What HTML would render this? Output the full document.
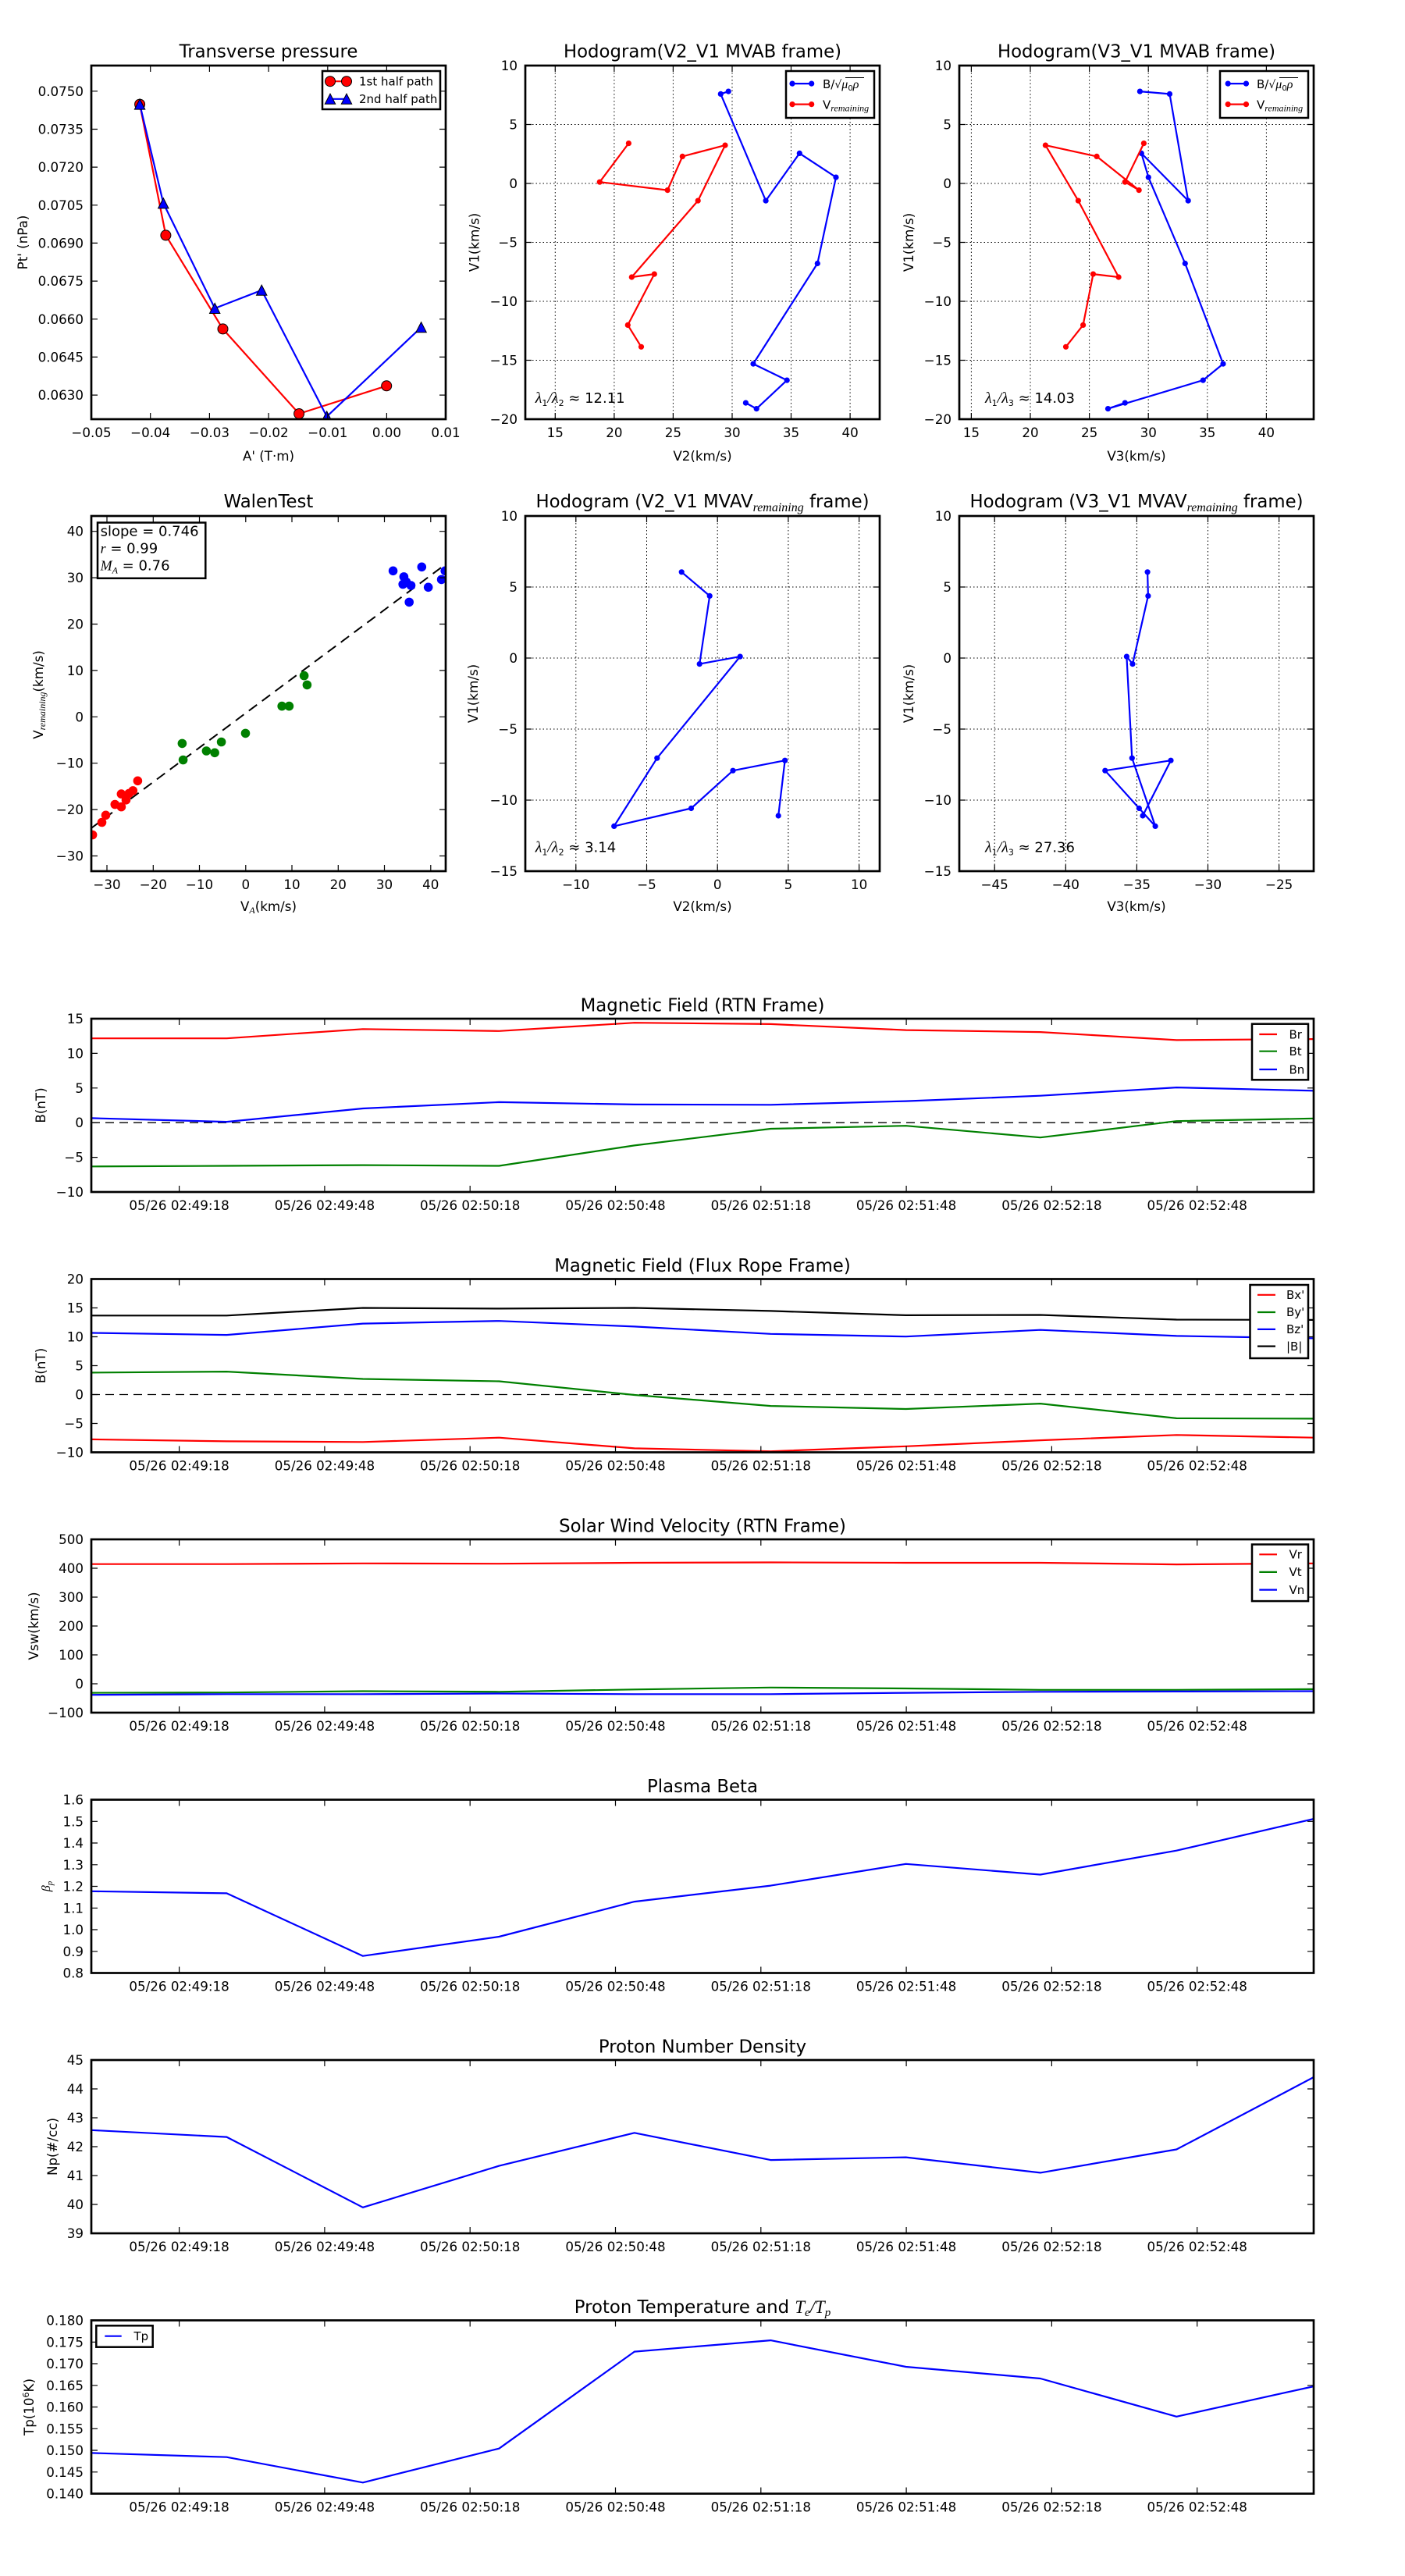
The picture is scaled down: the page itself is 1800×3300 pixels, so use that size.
<!DOCTYPE html>
<html><head><meta charset="utf-8"><style>
html,body{margin:0;padding:0;background:#fff;}
svg{display:block;}
text{font-family:"DejaVu Sans","Liberation Sans",sans-serif;fill:#000;}
.tk{font-size:16.7px;}
.tr{font-size:16.7px;text-anchor:end;}
.tc{font-size:16.7px;text-anchor:middle;}
.ttl{font-size:22.8px;text-anchor:middle;}
.lg{font-size:15px;}
.m{font-family:"Liberation Serif","DejaVu Serif",serif;font-style:italic;}
.fr{fill:none;stroke:#000;stroke-width:2.7;}
.tkm{fill:none;stroke:#000;stroke-width:1.2;}
.gr{fill:none;stroke:#000;stroke-width:1;stroke-dasharray:1.5 3;}
.ln{fill:none;stroke-width:2.2;stroke-linejoin:round;}
</style></head><body>
<svg width="1800" height="3300" viewBox="0 0 1800 3300" xmlns="http://www.w3.org/2000/svg">
<rect width="1800" height="3300" fill="#fff"/>
<defs>
<clipPath id="c1"><rect x="117" y="84" width="454" height="453"/></clipPath>
<clipPath id="c2"><rect x="673" y="84" width="454" height="453"/></clipPath>
<clipPath id="c3"><rect x="1229" y="84" width="454" height="453"/></clipPath>
<clipPath id="c4"><rect x="117" y="661" width="454" height="455"/></clipPath>
<clipPath id="c5"><rect x="673" y="661" width="454" height="455"/></clipPath>
<clipPath id="c6"><rect x="1229" y="661" width="454" height="455"/></clipPath>
<clipPath id="cts1"><rect x="117" y="1305" width="1566" height="222"/></clipPath>
<clipPath id="cts2"><rect x="117" y="1638.5" width="1566" height="222"/></clipPath>
<clipPath id="cts3"><rect x="117" y="1972" width="1566" height="222"/></clipPath>
<clipPath id="cts4"><rect x="117" y="2305.5" width="1566" height="222"/></clipPath>
<clipPath id="cts5"><rect x="117" y="2639" width="1566" height="222"/></clipPath>
<clipPath id="cts6"><rect x="117" y="2972.5" width="1566" height="222"/></clipPath>
<marker id="mo" markerWidth="16" markerHeight="16" refX="8" refY="8" markerUnits="userSpaceOnUse" overflow="visible"><circle cx="8" cy="8" r="6.5" fill="#f00" stroke="#000" stroke-width="1"/></marker>
<marker id="mt" markerWidth="16" markerHeight="16" refX="8" refY="8" markerUnits="userSpaceOnUse" overflow="visible"><polygon points="8,1.3 14.7,14.5 1.3,14.5" fill="#00f" stroke="#000" stroke-width="1"/></marker>
<marker id="db" markerWidth="10" markerHeight="10" refX="5" refY="5" markerUnits="userSpaceOnUse" overflow="visible"><circle cx="5" cy="5" r="3.6" fill="#00f"/></marker>
<marker id="dr" markerWidth="10" markerHeight="10" refX="5" refY="5" markerUnits="userSpaceOnUse" overflow="visible"><circle cx="5" cy="5" r="3.6" fill="#f00"/></marker>
</defs>

<!-- ================= Plot 1: Transverse pressure ================= -->
<text class="ttl" x="344" y="73.5">Transverse pressure</text>
<g clip-path="url(#c1)">
<polyline class="ln" stroke="#f00" points="179.1,133.6 212.4,301.4 285.5,421.4 383.1,530 495.2,494.3" marker-start="url(#mo)" marker-mid="url(#mo)" marker-end="url(#mo)"/>
<polyline class="ln" stroke="#00f" points="179.1,133.6 209.3,260.4 275.2,395 335.2,371.8 418.7,533.6 539.6,419.3" marker-start="url(#mt)" marker-mid="url(#mt)" marker-end="url(#mt)"/>
</g>
<path class="tkm" d="M192.7 537v-8M268.4 537v-8M344.1 537v-8M419.8 537v-8M495.4 537v-8M192.7 84v8M268.4 84v8M344.1 84v8M419.8 84v8M495.4 84v8M117 116.8h8M117 165.5h8M117 214.1h8M117 262.8h8M117 311.4h8M117 360.1h8M117 408.8h8M117 457.4h8M117 506.1h8M571 116.8h-8M571 165.5h-8M571 214.1h-8M571 262.8h-8M571 311.4h-8M571 360.1h-8M571 408.8h-8M571 457.4h-8M571 506.1h-8"/>
<rect class="fr" x="117" y="84" width="454" height="453"/>
<g>
<rect x="413" y="91" width="151" height="49" fill="#fff" stroke="#000" stroke-width="2.5"/>
<polyline class="ln" stroke="#f00" points="423,104.2 444,104.2" marker-start="url(#mo)" marker-end="url(#mo)"/>
<polyline class="ln" stroke="#00f" points="423,126.8 444,126.8" marker-start="url(#mt)" marker-end="url(#mt)"/>
<text class="lg" x="460" y="109.5">1st half path</text>
<text class="lg" x="460" y="132">2nd half path</text>
</g>
<text class="tr" x="107" y="122.8">0.0750</text>
<text class="tr" x="107" y="171.5">0.0735</text>
<text class="tr" x="107" y="220.1">0.0720</text>
<text class="tr" x="107" y="268.8">0.0705</text>
<text class="tr" x="107" y="317.4">0.0690</text>
<text class="tr" x="107" y="366.1">0.0675</text>
<text class="tr" x="107" y="414.8">0.0660</text>
<text class="tr" x="107" y="463.4">0.0645</text>
<text class="tr" x="107" y="512.1">0.0630</text>
<text class="tc" x="117" y="560">−0.05</text>
<text class="tc" x="192.7" y="560">−0.04</text>
<text class="tc" x="268.4" y="560">−0.03</text>
<text class="tc" x="344.1" y="560">−0.02</text>
<text class="tc" x="419.8" y="560">−0.01</text>
<text class="tc" x="495.4" y="560">0.00</text>
<text class="tc" x="571" y="560">0.01</text>
<text class="tc" transform="translate(35,310.5) rotate(-90)">Pt' (nPa)</text>
<text class="tc" x="344" y="590">A' (T·m)</text>

<!-- ================= Plot 2: Hodogram V2_V1 MVAB ================= -->
<text class="ttl" x="900" y="73.5">Hodogram(V2_V1 MVAB frame)</text>
<path class="gr" d="M711.3 84V537M786.9 84V537M862.4 84V537M938 84V537M1013.5 84V537M1089.1 84V537M673 159.5H1127M673 235H1127M673 310.5H1127M673 386H1127M673 461.5H1127"/>
<g clip-path="url(#c2)">
<polyline class="ln" stroke="#00f" points="933.2,117.1 923.3,120.4 981.1,257.1 1024.3,196.4 1071,227.1 1047.3,337.5 965,466.1 1008.2,487.1 969.2,523.6 955.4,516.1" marker-start="url(#db)" marker-mid="url(#db)" marker-end="url(#db)"/>
<polyline class="ln" stroke="#f00" points="805.4,183.6 768.3,233.2 855.2,243.6 874.3,200.4 929,186.1 894.2,257.1 809.3,355 838.3,351.1 804.3,416.4 821.5,444.3" marker-start="url(#dr)" marker-mid="url(#dr)" marker-end="url(#dr)"/>
</g>
<path class="tkm" d="M711.3 537v-8M786.9 537v-8M862.4 537v-8M938 537v-8M1013.5 537v-8M1089.1 537v-8M711.3 84v8M786.9 84v8M862.4 84v8M938 84v8M1013.5 84v8M1089.1 84v8M673 159.5h8M673 235h8M673 310.5h8M673 386h8M673 461.5h8M1127 159.5h-8M1127 235h-8M1127 310.5h-8M1127 386h-8M1127 461.5h-8"/>
<rect class="fr" x="673" y="84" width="454" height="453"/>
<rect x="1007" y="91" width="113" height="60" fill="#fff" stroke="#000" stroke-width="2.5"/>
<polyline class="ln" stroke="#00f" points="1015,107.1 1039.7,107.1" marker-start="url(#db)" marker-end="url(#db)"/>
<polyline class="ln" stroke="#f00" points="1015,133.6 1039.7,133.6" marker-start="url(#dr)" marker-end="url(#dr)"/>
<text class="lg" x="1054" y="113">B/<tspan font-family="DejaVu Sans" font-size="14">√</tspan><tspan class="m" font-size="16">μ</tspan><tspan font-size="10" dy="3">0</tspan><tspan class="m" font-size="16" dy="-3">ρ</tspan></text>
<line x1="1083" y1="99.5" x2="1107" y2="99.5" stroke="#000" stroke-width="1"/>
<text class="lg" x="1054" y="139.5">V<tspan class="m" font-size="12" dy="3">remaining</tspan></text>
<text x="685.7" y="516" font-size="18"><tspan class="m" font-size="20">λ</tspan><tspan font-size="11" dy="4">1</tspan><tspan class="m" font-size="20" dy="-4">/λ</tspan><tspan font-size="11" dy="4">2</tspan><tspan dy="-4"> ≈ 12.11</tspan></text>
<text class="tr" x="663" y="90">10</text>
<text class="tr" x="663" y="165.5">5</text>
<text class="tr" x="663" y="241">0</text>
<text class="tr" x="663" y="316.5">−5</text>
<text class="tr" x="663" y="392">−10</text>
<text class="tr" x="663" y="467.5">−15</text>
<text class="tr" x="663" y="543">−20</text>
<text class="tc" x="711.3" y="560">15</text>
<text class="tc" x="786.9" y="560">20</text>
<text class="tc" x="862.4" y="560">25</text>
<text class="tc" x="938" y="560">30</text>
<text class="tc" x="1013.5" y="560">35</text>
<text class="tc" x="1089.1" y="560">40</text>
<text class="tc" transform="translate(613.5,310.5) rotate(-90)">V1(km/s)</text>
<text class="tc" x="900" y="590">V2(km/s)</text>

<!-- ================= Plot 3: Hodogram V3_V1 MVAB ================= -->
<text class="ttl" x="1456" y="73.5">Hodogram(V3_V1 MVAB frame)</text>
<path class="gr" d="M1244.4 84V537M1320 84V537M1395.6 84V537M1471.2 84V537M1546.8 84V537M1622.4 84V537M1229 159.5H1683M1229 235H1683M1229 310.5H1683M1229 386H1683M1229 461.5H1683"/>
<g clip-path="url(#c3)">
<polyline class="ln" stroke="#00f" points="1460.4,117.1 1498.5,120.4 1522.2,257.1 1462.3,196.4 1471.3,227.1 1518.3,337.5 1567,466.1 1541.3,487.1 1419.5,523.6 1441.3,516.1" marker-start="url(#db)" marker-mid="url(#db)" marker-end="url(#db)"/>
<polyline class="ln" stroke="#f00" points="1465.4,183.6 1441.3,233.2 1459.2,243.6 1405.1,200.4 1339.4,186.1 1381.4,257.1 1433.1,355 1400.5,351.1 1387.6,416.4 1365.5,444.3" marker-start="url(#dr)" marker-mid="url(#dr)" marker-end="url(#dr)"/>
</g>
<path class="tkm" d="M1244.4 537v-8M1320 537v-8M1395.6 537v-8M1471.2 537v-8M1546.8 537v-8M1622.4 537v-8M1244.4 84v8M1320 84v8M1395.6 84v8M1471.2 84v8M1546.8 84v8M1622.4 84v8M1229 159.5h8M1229 235h8M1229 310.5h8M1229 386h8M1229 461.5h8M1683 159.5h-8M1683 235h-8M1683 310.5h-8M1683 386h-8M1683 461.5h-8"/>
<rect class="fr" x="1229" y="84" width="454" height="453"/>
<rect x="1563" y="91" width="113" height="60" fill="#fff" stroke="#000" stroke-width="2.5"/>
<polyline class="ln" stroke="#00f" points="1573.2,107.1 1596.5,107.1" marker-start="url(#db)" marker-end="url(#db)"/>
<polyline class="ln" stroke="#f00" points="1573.2,133.6 1596.5,133.6" marker-start="url(#dr)" marker-end="url(#dr)"/>
<text class="lg" x="1610" y="113">B/<tspan font-family="DejaVu Sans" font-size="14">√</tspan><tspan class="m" font-size="16">μ</tspan><tspan font-size="10" dy="3">0</tspan><tspan class="m" font-size="16" dy="-3">ρ</tspan></text>
<line x1="1639" y1="99.5" x2="1663" y2="99.5" stroke="#000" stroke-width="1"/>
<text class="lg" x="1610" y="139.5">V<tspan class="m" font-size="12" dy="3">remaining</tspan></text>
<text x="1262" y="516" font-size="18"><tspan class="m" font-size="20">λ</tspan><tspan font-size="11" dy="4">1</tspan><tspan class="m" font-size="20" dy="-4">/λ</tspan><tspan font-size="11" dy="4">3</tspan><tspan dy="-4"> ≈ 14.03</tspan></text>
<text class="tr" x="1219" y="90">10</text>
<text class="tr" x="1219" y="165.5">5</text>
<text class="tr" x="1219" y="241">0</text>
<text class="tr" x="1219" y="316.5">−5</text>
<text class="tr" x="1219" y="392">−10</text>
<text class="tr" x="1219" y="467.5">−15</text>
<text class="tr" x="1219" y="543">−20</text>
<text class="tc" x="1244.4" y="560">15</text>
<text class="tc" x="1320" y="560">20</text>
<text class="tc" x="1395.6" y="560">25</text>
<text class="tc" x="1471.2" y="560">30</text>
<text class="tc" x="1546.8" y="560">35</text>
<text class="tc" x="1622.4" y="560">40</text>
<text class="tc" transform="translate(1170,310.5) rotate(-90)">V1(km/s)</text>
<text class="tc" x="1456" y="590">V3(km/s)</text>

<!-- ================= Plot 4: WalenTest ================= -->
<text class="ttl" x="344" y="650">WalenTest</text>
<g clip-path="url(#c4)">
<line x1="116.7" y1="1061.1" x2="570" y2="723.5" stroke="#000" stroke-width="2" stroke-dasharray="13 8"/>
<g fill="#f00">
<circle cx="118.6" cy="1069.5" r="5.8"/><circle cx="130.5" cy="1053.5" r="5.8"/><circle cx="135.5" cy="1044.3" r="5.8"/><circle cx="147.3" cy="1030.5" r="5.8"/><circle cx="155.4" cy="1017.1" r="5.8"/><circle cx="155.4" cy="1033.6" r="5.8"/><circle cx="161.5" cy="1024.8" r="5.8"/><circle cx="165.3" cy="1016.4" r="5.8"/><circle cx="170.3" cy="1012.9" r="5.8"/><circle cx="176.4" cy="1000.3" r="5.8"/>
</g>
<g fill="#008000">
<circle cx="233.4" cy="952.4" r="5.8"/><circle cx="234.6" cy="973.5" r="5.8"/><circle cx="264.4" cy="962" r="5.8"/><circle cx="275.1" cy="964.3" r="5.8"/><circle cx="283.6" cy="950.5" r="5.8"/><circle cx="314.5" cy="939.4" r="5.8"/><circle cx="361.2" cy="904.6" r="5.8"/><circle cx="370.4" cy="904.6" r="5.8"/><circle cx="389.6" cy="865.6" r="5.8"/><circle cx="393.4" cy="877.4" r="5.8"/>
</g>
<g fill="#00f">
<circle cx="503.6" cy="731.3" r="5.8"/><circle cx="517.4" cy="738.9" r="5.8"/><circle cx="516.2" cy="748.5" r="5.8"/><circle cx="520.4" cy="745.4" r="5.8"/><circle cx="526.5" cy="750" r="5.8"/><circle cx="524.2" cy="771.4" r="5.8"/><circle cx="540.3" cy="726.3" r="5.8"/><circle cx="548.7" cy="752.3" r="5.8"/><circle cx="565.6" cy="742.4" r="5.8"/><circle cx="570.2" cy="731.3" r="5.8"/>
</g>
</g>
<path class="tkm" d="M137 1116v-8M196.3 1116v-8M255.5 1116v-8M314.8 1116v-8M374 1116v-8M433.3 1116v-8M492.5 1116v-8M551.8 1116v-8M137 661v8M196.3 661v8M255.5 661v8M314.8 661v8M374 661v8M433.3 661v8M492.5 661v8M551.8 661v8M117 680.7h8M117 740.1h8M117 799.5h8M117 858.9h8M117 918.3h8M117 977.7h8M117 1037.1h8M117 1096.5h8M571 680.7h-8M571 740.1h-8M571 799.5h-8M571 858.9h-8M571 918.3h-8M571 977.7h-8M571 1037.1h-8M571 1096.5h-8"/>
<rect class="fr" x="117" y="661" width="454" height="455"/>
<rect x="125" y="669.5" width="138.3" height="71.3" fill="#fff" stroke="#000" stroke-width="2.5"/>
<text x="128.6" y="686.5" font-size="18">slope = 0.746</text>
<text x="128.6" y="708.5" font-size="18"><tspan class="m">r</tspan> = 0.99</text>
<text x="128.6" y="730.5" font-size="18"><tspan class="m">M</tspan><tspan class="m" font-size="12" dy="4">A</tspan><tspan dy="-4"> = 0.76</tspan></text>
<text class="tr" x="107" y="686.7">40</text>
<text class="tr" x="107" y="746.1">30</text>
<text class="tr" x="107" y="805.5">20</text>
<text class="tr" x="107" y="864.9">10</text>
<text class="tr" x="107" y="924.3">0</text>
<text class="tr" x="107" y="983.7">−10</text>
<text class="tr" x="107" y="1043.1">−20</text>
<text class="tr" x="107" y="1102.5">−30</text>
<text class="tc" x="137" y="1139">−30</text>
<text class="tc" x="196.3" y="1139">−20</text>
<text class="tc" x="255.5" y="1139">−10</text>
<text class="tc" x="314.8" y="1139">0</text>
<text class="tc" x="374" y="1139">10</text>
<text class="tc" x="433.3" y="1139">20</text>
<text class="tc" x="492.5" y="1139">30</text>
<text class="tc" x="551.8" y="1139">40</text>
<text class="tc" transform="translate(55,890) rotate(-90)">V<tspan class="m" font-size="12" dy="3">remaining</tspan><tspan dy="-3">(km/s)</tspan></text>
<text class="tc" x="344" y="1167">V<tspan class="m" font-size="12" dy="3">A</tspan><tspan dy="-3">(km/s)</tspan></text>

<!-- ================= Plot 5 ================= -->
<text class="ttl" x="900" y="650">Hodogram (V2_V1 MVAV<tspan class="m" font-size="16" dy="5">remaining</tspan><tspan dy="-5"> frame)</tspan></text>
<path class="gr" d="M737.8 661V1116M828.5 661V1116M919.2 661V1116M1009.9 661V1116M1100.6 661V1116M673 752H1127M673 843H1127M673 934H1127M673 1025H1127"/>
<g clip-path="url(#c5)">
<polyline class="ln" stroke="#00f" points="873.2,732.8 909.2,763.4 896.2,850.6 948.2,841.1 841.8,971.2 786.7,1058.4 885.5,1035.5 939,987.2 1005.6,974.2 997.2,1045" marker-start="url(#db)" marker-mid="url(#db)" marker-end="url(#db)"/>
</g>
<path class="tkm" d="M737.8 1116v-8M828.5 1116v-8M919.2 1116v-8M1009.9 1116v-8M1100.6 1116v-8M737.8 661v8M828.5 661v8M919.2 661v8M1009.9 661v8M1100.6 661v8M673 752h8M673 843h8M673 934h8M673 1025h8M1127 752h-8M1127 843h-8M1127 934h-8M1127 1025h-8"/>
<rect class="fr" x="673" y="661" width="454" height="455"/>
<text x="685.7" y="1091.7" font-size="18"><tspan class="m" font-size="20">λ</tspan><tspan font-size="11" dy="4">1</tspan><tspan class="m" font-size="20" dy="-4">/λ</tspan><tspan font-size="11" dy="4">2</tspan><tspan dy="-4"> ≈ 3.14</tspan></text>
<text class="tr" x="663" y="667">10</text>
<text class="tr" x="663" y="758">5</text>
<text class="tr" x="663" y="849">0</text>
<text class="tr" x="663" y="940">−5</text>
<text class="tr" x="663" y="1031">−10</text>
<text class="tr" x="663" y="1122">−15</text>
<text class="tc" x="737.8" y="1139">−10</text>
<text class="tc" x="828.5" y="1139">−5</text>
<text class="tc" x="919.2" y="1139">0</text>
<text class="tc" x="1009.9" y="1139">5</text>
<text class="tc" x="1100.6" y="1139">10</text>
<text class="tc" transform="translate(612,888.5) rotate(-90)">V1(km/s)</text>
<text class="tc" x="900" y="1167">V2(km/s)</text>

<!-- ================= Plot 6 ================= -->
<text class="ttl" x="1456" y="650">Hodogram (V3_V1 MVAV<tspan class="m" font-size="16" dy="5">remaining</tspan><tspan dy="-5"> frame)</tspan></text>
<path class="gr" d="M1274.2 661V1116M1365.3 661V1116M1456.4 661V1116M1547.5 661V1116M1638.6 661V1116M1229 752H1683M1229 843H1683M1229 934H1683M1229 1025H1683"/>
<g clip-path="url(#c6)">
<polyline class="ln" stroke="#00f" points="1470.1,732.8 1470.9,763.4 1451,850.6 1443.4,841.1 1450.3,971.2 1480.1,1058.4 1459.4,1035.5 1415.8,987.2 1500,974.2 1464,1045" marker-start="url(#db)" marker-mid="url(#db)" marker-end="url(#db)"/>
</g>
<path class="tkm" d="M1274.2 1116v-8M1365.3 1116v-8M1456.4 1116v-8M1547.5 1116v-8M1638.6 1116v-8M1274.2 661v8M1365.3 661v8M1456.4 661v8M1547.5 661v8M1638.6 661v8M1229 752h8M1229 843h8M1229 934h8M1229 1025h8M1683 752h-8M1683 843h-8M1683 934h-8M1683 1025h-8"/>
<rect class="fr" x="1229" y="661" width="454" height="455"/>
<text x="1262" y="1091.7" font-size="18"><tspan class="m" font-size="20">λ</tspan><tspan font-size="11" dy="4">1</tspan><tspan class="m" font-size="20" dy="-4">/λ</tspan><tspan font-size="11" dy="4">3</tspan><tspan dy="-4"> ≈ 27.36</tspan></text>
<text class="tr" x="1219" y="667">10</text>
<text class="tr" x="1219" y="758">5</text>
<text class="tr" x="1219" y="849">0</text>
<text class="tr" x="1219" y="940">−5</text>
<text class="tr" x="1219" y="1031">−10</text>
<text class="tr" x="1219" y="1122">−15</text>
<text class="tc" x="1274.2" y="1139">−45</text>
<text class="tc" x="1365.3" y="1139">−40</text>
<text class="tc" x="1456.4" y="1139">−35</text>
<text class="tc" x="1547.5" y="1139">−30</text>
<text class="tc" x="1638.6" y="1139">−25</text>
<text class="tc" transform="translate(1170,888.5) rotate(-90)">V1(km/s)</text>
<text class="tc" x="1456" y="1167">V3(km/s)</text>

<!-- ================= TS1: Magnetic Field RTN ================= -->
<text class="ttl" x="900" y="1295.5">Magnetic Field (RTN Frame)</text>
<g clip-path="url(#cts1)">
<line x1="117" y1="1438.2" x2="1683" y2="1438.2" stroke="#000" stroke-width="1.3" stroke-dasharray="11 7"/>
<polyline class="ln" stroke="#f00" points="117,1330.2 290.4,1330.2 464.9,1318.3 639.4,1320.8 812.8,1310.2 987.3,1311.9 1160.6,1319.6 1332.8,1322.1 1507.3,1332.4 1683,1331.1"/>
<polyline class="ln" stroke="#008000" points="117,1494.3 290.4,1493.5 464.9,1492.6 639.4,1493.5 812.8,1467.4 987.3,1446 1160.6,1442.2 1332.8,1457.2 1507.3,1436.2 1683,1432.8"/>
<polyline class="ln" stroke="#00f" points="117,1432.4 290.4,1437.1 464.9,1420 639.4,1411.9 812.8,1414.9 987.3,1415.3 1160.6,1410.6 1332.8,1403.7 1507.3,1393.1 1683,1397.3"/>
</g>
<path class="tkm" d="M229.6 1527v-8M415.9 1527v-8M602.2 1527v-8M788.5 1527v-8M974.8 1527v-8M1161.1 1527v-8M1347.4 1527v-8M1533.7 1527v-8M229.6 1305v8M415.9 1305v8M602.2 1305v8M788.5 1305v8M974.8 1305v8M1161.1 1305v8M1347.4 1305v8M1533.7 1305v8M117 1349.4h8M117 1393.8h8M117 1438.2h8M117 1482.6h8M1683 1349.4h-8M1683 1393.8h-8M1683 1438.2h-8M1683 1482.6h-8"/>
<rect class="fr" x="117" y="1305" width="1566" height="222"/>
<rect x="1604" y="1311.7" width="72" height="71.6" fill="#fff" stroke="#000" stroke-width="2.5"/>
<line x1="1613.3" y1="1325" x2="1636" y2="1325" stroke="#f00" stroke-width="2.2"/>
<line x1="1613.3" y1="1346.7" x2="1636" y2="1346.7" stroke="#008000" stroke-width="2.2"/>
<line x1="1613.3" y1="1370" x2="1636" y2="1370" stroke="#00f" stroke-width="2.2"/>
<text class="lg" x="1651.5" y="1330.3">Br</text>
<text class="lg" x="1651.5" y="1352">Bt</text>
<text class="lg" x="1651.5" y="1375.3">Bn</text>
<text class="tr" x="107" y="1311">15</text>
<text class="tr" x="107" y="1355.4">10</text>
<text class="tr" x="107" y="1399.8">5</text>
<text class="tr" x="107" y="1444.2">0</text>
<text class="tr" x="107" y="1488.6">−5</text>
<text class="tr" x="107" y="1533">−10</text>
<text class="tc" x="229.6" y="1550">05/26 02:49:18</text>
<text class="tc" x="415.9" y="1550">05/26 02:49:48</text>
<text class="tc" x="602.2" y="1550">05/26 02:50:18</text>
<text class="tc" x="788.5" y="1550">05/26 02:50:48</text>
<text class="tc" x="974.8" y="1550">05/26 02:51:18</text>
<text class="tc" x="1161.1" y="1550">05/26 02:51:48</text>
<text class="tc" x="1347.4" y="1550">05/26 02:52:18</text>
<text class="tc" x="1533.7" y="1550">05/26 02:52:48</text>
<text class="tc" transform="translate(58,1416) rotate(-90)">B(nT)</text>

<!-- ================= TS2: Magnetic Field Flux Rope ================= -->
<text class="ttl" x="900" y="1629">Magnetic Field (Flux Rope Frame)</text>
<g clip-path="url(#cts2)">
<line x1="117" y1="1786.5" x2="1683" y2="1786.5" stroke="#000" stroke-width="1.3" stroke-dasharray="11 7"/>
<polyline class="ln" stroke="#f00" points="117,1843.9 290.4,1846.4 464.9,1847.3 639.4,1841.7 812.8,1855.4 987.3,1859.2 1160.6,1852.8 1332.8,1845.1 1507.3,1838.3 1683,1841.7"/>
<polyline class="ln" stroke="#008000" points="117,1758.4 290.4,1757.1 464.9,1766.5 639.4,1769.5 812.8,1787 987.3,1801.1 1160.6,1805 1332.8,1798.1 1507.3,1816.9 1683,1817.4"/>
<polyline class="ln" stroke="#00f" points="117,1707.5 290.4,1710.1 464.9,1695.6 639.4,1692.2 812.8,1699.4 987.3,1708.8 1160.6,1712.2 1332.8,1703.7 1507.3,1711.4 1683,1714.4"/>
<polyline class="ln" stroke="#000" points="117,1685.3 290.4,1685.3 464.9,1675.5 639.4,1676.4 812.8,1675.5 987.3,1679.4 1160.6,1684.9 1332.8,1684.5 1507.3,1690.5 1683,1690.9"/>
</g>
<path class="tkm" d="M229.6 1860.5v-8M415.9 1860.5v-8M602.2 1860.5v-8M788.5 1860.5v-8M974.8 1860.5v-8M1161.1 1860.5v-8M1347.4 1860.5v-8M1533.7 1860.5v-8M229.6 1638.5v8M415.9 1638.5v8M602.2 1638.5v8M788.5 1638.5v8M974.8 1638.5v8M1161.1 1638.5v8M1347.4 1638.5v8M1533.7 1638.5v8M117 1675.5h8M117 1712.5h8M117 1749.5h8M117 1786.5h8M117 1823.5h8M1683 1675.5h-8M1683 1712.5h-8M1683 1749.5h-8M1683 1786.5h-8M1683 1823.5h-8"/>
<rect class="fr" x="117" y="1638.5" width="1566" height="222"/>
<rect x="1601.5" y="1646" width="74.5" height="94" fill="#fff" stroke="#000" stroke-width="2.5"/>
<line x1="1611" y1="1658.8" x2="1634" y2="1658.8" stroke="#f00" stroke-width="2.2"/>
<line x1="1611" y1="1681" x2="1634" y2="1681" stroke="#008000" stroke-width="2.2"/>
<line x1="1611" y1="1702.9" x2="1634" y2="1702.9" stroke="#00f" stroke-width="2.2"/>
<line x1="1611" y1="1724.6" x2="1634" y2="1724.6" stroke="#000" stroke-width="2.2"/>
<text class="lg" x="1648" y="1664">Bx'</text>
<text class="lg" x="1648" y="1686.2">By'</text>
<text class="lg" x="1648" y="1708.1">Bz'</text>
<text class="lg" x="1648" y="1729.8">|B|</text>
<text class="tr" x="107" y="1644.5">20</text>
<text class="tr" x="107" y="1681.5">15</text>
<text class="tr" x="107" y="1718.5">10</text>
<text class="tr" x="107" y="1755.5">5</text>
<text class="tr" x="107" y="1792.5">0</text>
<text class="tr" x="107" y="1829.5">−5</text>
<text class="tr" x="107" y="1866.5">−10</text>
<text class="tc" x="229.6" y="1883.5">05/26 02:49:18</text>
<text class="tc" x="415.9" y="1883.5">05/26 02:49:48</text>
<text class="tc" x="602.2" y="1883.5">05/26 02:50:18</text>
<text class="tc" x="788.5" y="1883.5">05/26 02:50:48</text>
<text class="tc" x="974.8" y="1883.5">05/26 02:51:18</text>
<text class="tc" x="1161.1" y="1883.5">05/26 02:51:48</text>
<text class="tc" x="1347.4" y="1883.5">05/26 02:52:18</text>
<text class="tc" x="1533.7" y="1883.5">05/26 02:52:48</text>
<text class="tc" transform="translate(58,1749.5) rotate(-90)">B(nT)</text>

<!-- ================= TS3: Solar Wind Velocity ================= -->
<text class="ttl" x="900" y="1962.5">Solar Wind Velocity (RTN Frame)</text>
<g clip-path="url(#cts3)">
<polyline class="ln" stroke="#f00" points="117,2003.7 290.4,2003.7 464.9,2002.8 639.4,2003.2 812.8,2002 987.3,2001.5 1160.6,2002 1332.8,2002 1507.3,2004.1 1683,2002.8"/>
<polyline class="ln" stroke="#008000" points="117,2168.6 290.4,2168.2 464.9,2166.5 639.4,2167.3 812.8,2164.3 987.3,2161.8 1160.6,2163 1332.8,2164.8 1507.3,2164.8 1683,2163.9"/>
<polyline class="ln" stroke="#00f" points="117,2171.2 290.4,2170.3 464.9,2170.3 639.4,2169.5 812.8,2170.3 987.3,2170.3 1160.6,2168.6 1332.8,2167.3 1507.3,2166.9 1683,2166.5"/>
</g>
<path class="tkm" d="M229.6 2194v-8M415.9 2194v-8M602.2 2194v-8M788.5 2194v-8M974.8 2194v-8M1161.1 2194v-8M1347.4 2194v-8M1533.7 2194v-8M229.6 1972v8M415.9 1972v8M602.2 1972v8M788.5 1972v8M974.8 1972v8M1161.1 1972v8M1347.4 1972v8M1533.7 1972v8M117 2009h8M117 2046h8M117 2083h8M117 2120h8M117 2157h8M1683 2009h-8M1683 2046h-8M1683 2083h-8M1683 2120h-8M1683 2157h-8"/>
<rect class="fr" x="117" y="1972" width="1566" height="222"/>
<rect x="1604" y="1978.5" width="72" height="72.6" fill="#fff" stroke="#000" stroke-width="2.5"/>
<line x1="1613.3" y1="1991.3" x2="1636" y2="1991.3" stroke="#f00" stroke-width="2.2"/>
<line x1="1613.3" y1="2013.9" x2="1636" y2="2013.9" stroke="#008000" stroke-width="2.2"/>
<line x1="1613.3" y1="2036.6" x2="1636" y2="2036.6" stroke="#00f" stroke-width="2.2"/>
<text class="lg" x="1651.5" y="1996.6">Vr</text>
<text class="lg" x="1651.5" y="2019.2">Vt</text>
<text class="lg" x="1651.5" y="2041.9">Vn</text>
<text class="tr" x="107" y="1978">500</text>
<text class="tr" x="107" y="2015">400</text>
<text class="tr" x="107" y="2052">300</text>
<text class="tr" x="107" y="2089">200</text>
<text class="tr" x="107" y="2126">100</text>
<text class="tr" x="107" y="2163">0</text>
<text class="tr" x="107" y="2200">−100</text>
<text class="tc" x="229.6" y="2217">05/26 02:49:18</text>
<text class="tc" x="415.9" y="2217">05/26 02:49:48</text>
<text class="tc" x="602.2" y="2217">05/26 02:50:18</text>
<text class="tc" x="788.5" y="2217">05/26 02:50:48</text>
<text class="tc" x="974.8" y="2217">05/26 02:51:18</text>
<text class="tc" x="1161.1" y="2217">05/26 02:51:48</text>
<text class="tc" x="1347.4" y="2217">05/26 02:52:18</text>
<text class="tc" x="1533.7" y="2217">05/26 02:52:48</text>
<text class="tc" transform="translate(49,2083) rotate(-90)">Vsw(km/s)</text>

<!-- ================= TS4: Plasma Beta ================= -->
<text class="ttl" x="900" y="2296">Plasma Beta</text>
<g clip-path="url(#cts4)">
<polyline class="ln" stroke="#00f" points="117,2422.8 290.4,2425.4 464.9,2505.7 639.4,2481 812.8,2436.1 987.3,2415.6 1160.6,2387.8 1332.8,2401.5 1507.3,2370.7 1683,2330.1"/>
</g>
<path class="tkm" d="M229.6 2527.5v-8M415.9 2527.5v-8M602.2 2527.5v-8M788.5 2527.5v-8M974.8 2527.5v-8M1161.1 2527.5v-8M1347.4 2527.5v-8M1533.7 2527.5v-8M229.6 2305.5v8M415.9 2305.5v8M602.2 2305.5v8M788.5 2305.5v8M974.8 2305.5v8M1161.1 2305.5v8M1347.4 2305.5v8M1533.7 2305.5v8M117 2333.3h8M117 2361h8M117 2388.8h8M117 2416.5h8M117 2444.3h8M117 2472h8M117 2499.8h8M1683 2333.3h-8M1683 2361h-8M1683 2388.8h-8M1683 2416.5h-8M1683 2444.3h-8M1683 2472h-8M1683 2499.8h-8"/>
<rect class="fr" x="117" y="2305.5" width="1566" height="222"/>
<text class="tr" x="107" y="2311.5">1.6</text>
<text class="tr" x="107" y="2339.3">1.5</text>
<text class="tr" x="107" y="2367">1.4</text>
<text class="tr" x="107" y="2394.8">1.3</text>
<text class="tr" x="107" y="2422.5">1.2</text>
<text class="tr" x="107" y="2450.3">1.1</text>
<text class="tr" x="107" y="2478">1.0</text>
<text class="tr" x="107" y="2505.8">0.9</text>
<text class="tr" x="107" y="2533.5">0.8</text>
<text class="tc" x="229.6" y="2550.5">05/26 02:49:18</text>
<text class="tc" x="415.9" y="2550.5">05/26 02:49:48</text>
<text class="tc" x="602.2" y="2550.5">05/26 02:50:18</text>
<text class="tc" x="788.5" y="2550.5">05/26 02:50:48</text>
<text class="tc" x="974.8" y="2550.5">05/26 02:51:18</text>
<text class="tc" x="1161.1" y="2550.5">05/26 02:51:48</text>
<text class="tc" x="1347.4" y="2550.5">05/26 02:52:18</text>
<text class="tc" x="1533.7" y="2550.5">05/26 02:52:48</text>
<text class="tc" transform="translate(64,2416.5) rotate(-90)"><tspan class="m" font-size="16">β</tspan><tspan class="m" font-size="11" dy="3">p</tspan></text>

<!-- ================= TS5: Proton Number Density ================= -->
<text class="ttl" x="900" y="2629.5">Proton Number Density</text>
<g clip-path="url(#cts5)">
<polyline class="ln" stroke="#00f" points="117,2728.8 290.4,2737.6 464.9,2827.8 639.4,2774.6 812.8,2732.3 987.3,2767.1 1160.6,2763.6 1332.8,2783.4 1507.3,2753.5 1683,2661"/>
</g>
<path class="tkm" d="M229.6 2861v-8M415.9 2861v-8M602.2 2861v-8M788.5 2861v-8M974.8 2861v-8M1161.1 2861v-8M1347.4 2861v-8M1533.7 2861v-8M229.6 2639v8M415.9 2639v8M602.2 2639v8M788.5 2639v8M974.8 2639v8M1161.1 2639v8M1347.4 2639v8M1533.7 2639v8M117 2676h8M117 2713h8M117 2750h8M117 2787h8M117 2824h8M1683 2676h-8M1683 2713h-8M1683 2750h-8M1683 2787h-8M1683 2824h-8"/>
<rect class="fr" x="117" y="2639" width="1566" height="222"/>
<text class="tr" x="107" y="2645">45</text>
<text class="tr" x="107" y="2682">44</text>
<text class="tr" x="107" y="2719">43</text>
<text class="tr" x="107" y="2756">42</text>
<text class="tr" x="107" y="2793">41</text>
<text class="tr" x="107" y="2830">40</text>
<text class="tr" x="107" y="2867">39</text>
<text class="tc" x="229.6" y="2884">05/26 02:49:18</text>
<text class="tc" x="415.9" y="2884">05/26 02:49:48</text>
<text class="tc" x="602.2" y="2884">05/26 02:50:18</text>
<text class="tc" x="788.5" y="2884">05/26 02:50:48</text>
<text class="tc" x="974.8" y="2884">05/26 02:51:18</text>
<text class="tc" x="1161.1" y="2884">05/26 02:51:48</text>
<text class="tc" x="1347.4" y="2884">05/26 02:52:18</text>
<text class="tc" x="1533.7" y="2884">05/26 02:52:48</text>
<text class="tc" transform="translate(73,2750) rotate(-90)">Np(#/cc)</text>

<!-- ================= TS6: Proton Temperature ================= -->
<text class="ttl" x="900" y="2963">Proton Temperature and <tspan class="m">T</tspan><tspan class="m" font-size="15" dy="4">e</tspan><tspan class="m" dy="-4">/T</tspan><tspan class="m" font-size="15" dy="4">p</tspan></text>
<g clip-path="url(#cts6)">
<polyline class="ln" stroke="#00f" points="117,3142.4 290.4,3147.7 464.9,3180.3 639.4,3136.7 812.8,3012.6 987.3,2998.1 1160.6,3032 1332.8,3047 1507.3,3095.8 1683,3057.1"/>
</g>
<path class="tkm" d="M229.6 3194.5v-8M415.9 3194.5v-8M602.2 3194.5v-8M788.5 3194.5v-8M974.8 3194.5v-8M1161.1 3194.5v-8M1347.4 3194.5v-8M1533.7 3194.5v-8M229.6 2972.5v8M415.9 2972.5v8M602.2 2972.5v8M788.5 2972.5v8M974.8 2972.5v8M1161.1 2972.5v8M1347.4 2972.5v8M1533.7 2972.5v8M117 3000.3h8M117 3028h8M117 3055.8h8M117 3083.5h8M117 3111.3h8M117 3139h8M117 3166.8h8M1683 3000.3h-8M1683 3028h-8M1683 3055.8h-8M1683 3083.5h-8M1683 3111.3h-8M1683 3139h-8M1683 3166.8h-8"/>
<rect class="fr" x="117" y="2972.5" width="1566" height="222"/>
<rect x="123.3" y="2979.3" width="72.4" height="27.4" fill="#fff" stroke="#000" stroke-width="2.5"/>
<line x1="134.3" y1="2992.7" x2="155.7" y2="2992.7" stroke="#00f" stroke-width="2.2"/>
<text class="lg" x="171.5" y="2998">Tp</text>
<text class="tr" x="107" y="2978.5">0.180</text>
<text class="tr" x="107" y="3006.3">0.175</text>
<text class="tr" x="107" y="3034">0.170</text>
<text class="tr" x="107" y="3061.8">0.165</text>
<text class="tr" x="107" y="3089.5">0.160</text>
<text class="tr" x="107" y="3117.3">0.155</text>
<text class="tr" x="107" y="3145">0.150</text>
<text class="tr" x="107" y="3172.8">0.145</text>
<text class="tr" x="107" y="3200.5">0.140</text>
<text class="tc" x="229.6" y="3217.5">05/26 02:49:18</text>
<text class="tc" x="415.9" y="3217.5">05/26 02:49:48</text>
<text class="tc" x="602.2" y="3217.5">05/26 02:50:18</text>
<text class="tc" x="788.5" y="3217.5">05/26 02:50:48</text>
<text class="tc" x="974.8" y="3217.5">05/26 02:51:18</text>
<text class="tc" x="1161.1" y="3217.5">05/26 02:51:48</text>
<text class="tc" x="1347.4" y="3217.5">05/26 02:52:18</text>
<text class="tc" x="1533.7" y="3217.5">05/26 02:52:48</text>
<text class="tc" transform="translate(43,3083.5) rotate(-90)">Tp(10<tspan font-size="11" dy="-6">6</tspan><tspan dy="6">K)</tspan></text>
</svg>
</body></html>
